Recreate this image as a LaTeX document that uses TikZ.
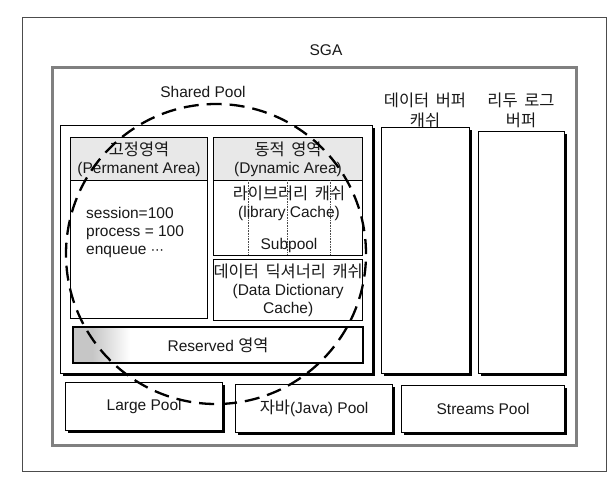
\documentclass[tikz,border=0pt]{standalone}
\usepackage{fontspec}
\setmainfont{Liberation Sans}
\newfontfamily\kr[WordSpace=1.8,Scale=1.06]{Noto Sans CJK KR}
\newfontfamily\dv{DejaVu Sans}
\usetikzlibrary{shadows}
\begin{document}
\begin{tikzpicture}[x=1pt,y=-1pt,
  every node/.style={font=\fontsize{15.5}{18}\selectfont, text=black!90},
  box/.style={draw=black, line width=1.1pt, anchor=north west, inner sep=0pt, fill=white},
  shbox/.style={box, line width=1.3pt, drop shadow={shadow xshift=2.2pt, shadow yshift=-2.2pt, fill=black, opacity=1}},
  hdr/.style={box, fill=gray!18},
  lbl/.style={align=center, inner sep=0pt},
  sub/.style={densely dotted, line width=0.6pt, black!70},
  pool/.style={draw=black, line width=2.3pt, dash pattern=on 15pt off 8pt}
]
\useasboundingbox (0,0) rectangle (616,491);
\fill[white] (0,0) rectangle (616,491);

% SGA frame
\node[box, fill=none, draw=black!70, line width=0.9pt, minimum width=584pt, minimum height=454pt] (sga) at (22,17) {};
\node[lbl] (sgat) at (326,50) {SGA};
\node[box, fill=none, draw=black!50, line width=3pt, minimum width=524pt, minimum height=378pt] (sgain) at (51,66) {};

% Shared pool
\node[lbl] (spt) at (203,92) {Shared Pool};
\node[shbox, minimum width=312pt, minimum height=248pt] (shared) at (60,125) {};

\node[box, minimum width=137pt, minimum height=181pt] (perm) at (70,137) {};
\node[hdr, minimum width=137pt, minimum height=43pt] (permh) at (70,137) {};
\node[lbl] (permt) at (permh.center) {{\kr 고정영역}\\(Permanent Area)};
\node[anchor=base west, inner sep=0pt] (s1) at (86,218) {session=100};
\node[anchor=base west, inner sep=0pt] (s2) at (86,236) {process = 100};
\node[anchor=base west, inner sep=0pt] (s3) at (86,254) {enqueue {\dv\fontsize{13}{18}\selectfont ⋯}};

\node[box, minimum width=149pt, minimum height=118pt] (dyn) at (213,137) {};
\node[hdr, minimum width=149pt, minimum height=43pt] (dynh) at (213,137) {};
\node[lbl] (dynt) at (dynh.center) {{\kr 동적 영역}\\(Dynamic Area)};
\draw[sub] (248,180) -- (248,255);
\draw[sub] (287,180) -- (287,255);
\draw[sub] (330,180) -- (330,255);
\node[lbl] (libt) at (289,203) {{\kr 라이브러리 캐쉬}\\(library Cache)};
\node[lbl] (subt) at (289,245) {Subpool};

\node[box, minimum width=149pt, minimum height=61pt, align=center] (dd) at (213,259) {{\kr 데이터 딕셔너리 캐쉬}\\(Data Dictionary\\Cache)};

\node[box, minimum width=289pt, minimum height=35pt] (res) at (73,327) {};
\fill[gray!45] (74,328) rectangle (92,361.5);
\shade[left color=gray!45, right color=white] (92,328) rectangle (130,361.5);
\draw[line width=1.1pt] (res.north west) rectangle (res.south east);
\node[lbl] (rest) at (res.center) {Reserved {\kr 영역}};

% Buffers
\node[lbl, font=\fontsize{15.5}{20}\selectfont] (bct) at (425,110) {{\kr 데이터 버퍼}\\{\kr 캐쉬}};
\node[lbl, font=\fontsize{15.5}{20}\selectfont] (rlt) at (521,110) {{\kr 리두 로그}\\{\kr 버퍼}};
\node[shbox, minimum width=88pt, minimum height=246pt] (bc) at (381,127) {};
\node[shbox, minimum width=86pt, minimum height=242pt] (rl) at (478,131) {};

% Other pools
\node[shbox, minimum width=157pt, minimum height=48pt] (lp) at (65,382) {Large Pool};
\node[shbox, minimum width=157pt, minimum height=48pt] (jp) at (235,384) {{\kr 자바}(Java) Pool};
\node[shbox, minimum width=163pt, minimum height=47pt] (stp) at (401,385) {Streams Pool};

% Shared pool extent
\draw[pool] (216,254) circle (150pt);
\end{tikzpicture}
\end{document}
